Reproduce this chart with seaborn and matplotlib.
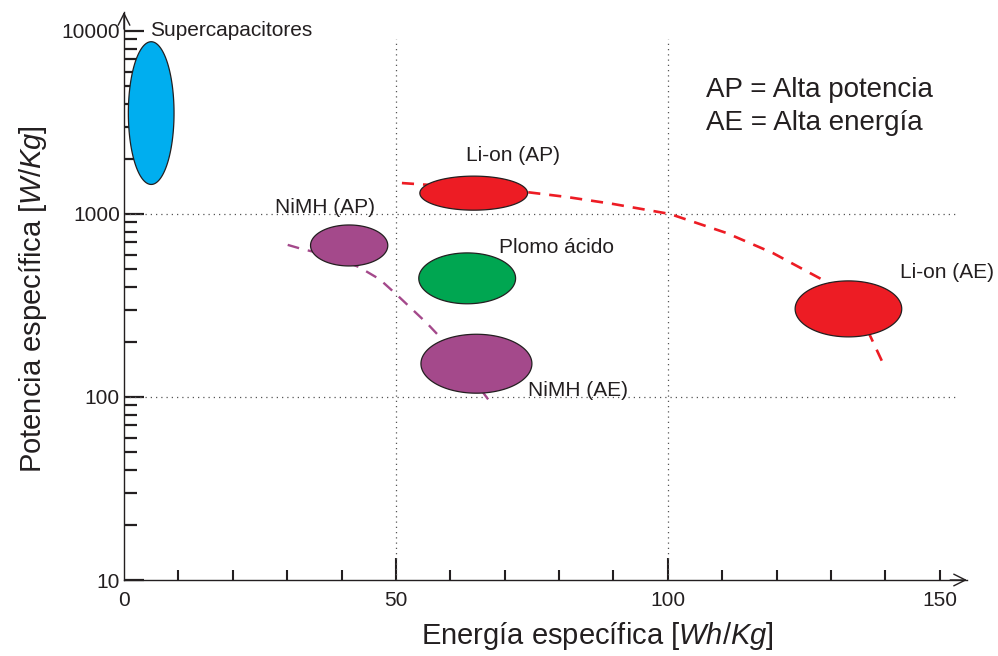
import numpy as np
import pandas as pd
import matplotlib
matplotlib.use("Agg")
import matplotlib.pyplot as plt
import seaborn as sns
from matplotlib.ticker import FixedLocator, NullFormatter, LogLocator

# ---- data -------------------------------------------------------------
tech_names = ["Supercapacitores", "Li-on (AP)", "NiMH (AP)", "Plomo ácido", "NiMH (AE)", "Li-on (AE)"]
center_energy = [5.0, 64.3, 41.4, 63.1, 64.8, 133.2]        # Wh/Kg
center_power = [3560, 1300, 673, 445, 152, 303]              # W/Kg
half_width_energy = [4.2, 9.9, 7.1, 8.9, 10.2, 9.8]          # Wh/Kg
half_height_decades = [0.39, 0.093, 0.112, 0.139, 0.161, 0.153]
fill_colors = ["#00AEEF", "#ED1C24", "#A4498B", "#00A651", "#A4498B", "#ED1C24"]

label_energy = [4.8, 62.9, 27.8, 68.9, 74.3, 142.6]
label_power = [10100, 2100, 1091, 652, 109, 482]

# Li-ion trend line
liion_energy = [51.1, 64.0, 74.0, 81.4, 89.9, 100.4, 110.8, 119.3, 129.2, 134.5, 139.5]
liion_power = [1476, 1390, 1318, 1239, 1135, 1000, 787, 612, 425, 320, 154]

# NiMH trend line
nimh_energy = [30.1, 32.7, 38.0, 43.2, 47.0, 50.2, 55.7, 58.6, 63.0, 67.3]
nimh_power = [678, 644, 590, 513, 440, 361, 253, 205, 140, 94]

x_tick_labels = ["0", "50", "100", "150"]
x_label_pos = [0, 50, 100, 150]
y_major = [10, 100, 1000, 10000]
y_tick_labels = ["10", "100", "1000", "10000"]

note_lines = ["AP = Alta potencia", "AE = Alta energía"]
note_power = [4760, 3140]
note_energy = 107.0

# ---- style ------------------------------------------------------------
sns.set_style("white")
plt.rcParams["font.family"] = ["Liberation Sans", "DejaVu Sans"]
plt.rcParams["mathtext.fontset"] = "custom"
plt.rcParams["mathtext.rm"] = "Liberation Sans"
plt.rcParams["mathtext.it"] = "Liberation Sans:italic"
ink = "#231f20"

fig = plt.figure(figsize=(9.98, 6.56), dpi=100)
ax = fig.add_axes([124 / 998, (656 - 580) / 656, (967 - 124) / 998, (580 - 12) / 656])
ax.set_yscale("log")
ax.set_xlim(0, 155)
ax.set_ylim(10, 12700)

# dotted reference lines
dot = dict(color="#555555", lw=0.9, linestyle=(0, (1, 3.2)), zorder=1)
for xv in [50, 100]:
    ax.plot([xv, xv], [10, 9000], **dot)
for yv in [100, 1000]:
    ax.plot([0, 153], [yv, yv], **dot)

# trend lines
sns.lineplot(data=pd.DataFrame({"e": liion_energy, "p": liion_power}), x="e", y="p",
             ax=ax, color="#ED1C24", linewidth=1.9, zorder=2)
ax.lines[-1].set_linestyle((0, (4.6, 3.4)))
sns.lineplot(data=pd.DataFrame({"e": nimh_energy, "p": nimh_power}), x="e", y="p",
             ax=ax, color="#A4498B", linewidth=1.7, zorder=2)
ax.lines[-1].set_linestyle((0, (5.0, 3.8)))

# technology regions (ellipses in energy / log-power space)
t = np.linspace(0, 2 * np.pi, 200)
for cx, cy, hw, hh, col in zip(center_energy, center_power, half_width_energy,
                               half_height_decades, fill_colors):
    xs = cx + hw * np.cos(t)
    ys = 10 ** (np.log10(cy) + hh * np.sin(t))
    ax.fill(xs, ys, facecolor=col, edgecolor=ink, linewidth=0.9, zorder=3)

for name, lx, ly in zip(tech_names, label_energy, label_power):
    ax.text(lx, ly, name, fontsize=15, color=ink, ha="left", va="center", zorder=4)

for line, py in zip(note_lines, note_power):
    ax.text(note_energy, py, line, fontsize=20, color=ink, ha="left", va="center")

# axes, ticks
for s in ["top", "right"]:
    ax.spines[s].set_visible(False)
for s in ["left", "bottom"]:
    ax.spines[s].set_color(ink)
    ax.spines[s].set_linewidth(1.0)

ax.set_xticks(x_label_pos)
ax.set_xticklabels(x_tick_labels)
ax.xaxis.set_minor_locator(FixedLocator([10, 20, 30, 40, 60, 70, 80, 90, 110, 120, 130, 140]))
ax.tick_params(axis="x", which="both", bottom=True, top=False)
ax.tick_params(axis="x", which="major", direction="in", length=16, width=1.5,
               color=ink, labelsize=15, labelcolor=ink, pad=8)
ax.tick_params(axis="x", which="minor", direction="in", length=7.5, width=1.5, color=ink)
xt = ax.xaxis.get_major_ticks()
xt[0].tick1line.set_visible(False)
xt[-1].tick1line.set_markersize(7.5)

ax.yaxis.set_major_locator(FixedLocator(y_major))
ax.set_yticklabels(y_tick_labels)
ax.yaxis.set_minor_locator(LogLocator(base=10, subs=np.arange(2, 10)))
ax.yaxis.set_minor_formatter(NullFormatter())
ax.tick_params(axis="y", which="both", left=True, right=False)
ax.tick_params(axis="y", which="major", direction="in", length=14.5, width=1.6,
               color=ink, labelsize=15, labelcolor=ink, pad=3)
ax.tick_params(axis="y", which="minor", direction="in", length=9.5, width=1.6, color=ink)

# arrow heads on the axes
arrow = dict(arrowstyle="->,head_length=0.7,head_width=0.35", color=ink, lw=1.0,
             shrinkA=0, shrinkB=0, mutation_scale=12)
ax.annotate("", xy=(1.0, 0), xytext=(0.98, 0), xycoords="axes fraction", arrowprops=arrow)
ax.annotate("", xy=(0, 1.0), xytext=(0, 0.97), xycoords="axes fraction", arrowprops=arrow)

ax.set_xlabel("")
ax.set_ylabel("")
ax.text(0.561, -0.0986, r"Energía específica [$\mathit{Wh/Kg}$]", transform=ax.transAxes,
        fontsize=21, color=ink, ha="center", va="center")
ax.text(-0.108, 0.495, r"Potencia específica [$\mathit{W/Kg}$]", transform=ax.transAxes,
        fontsize=21, color=ink, ha="center", va="center", rotation=90)

fig.savefig("out.png", dpi=100)
